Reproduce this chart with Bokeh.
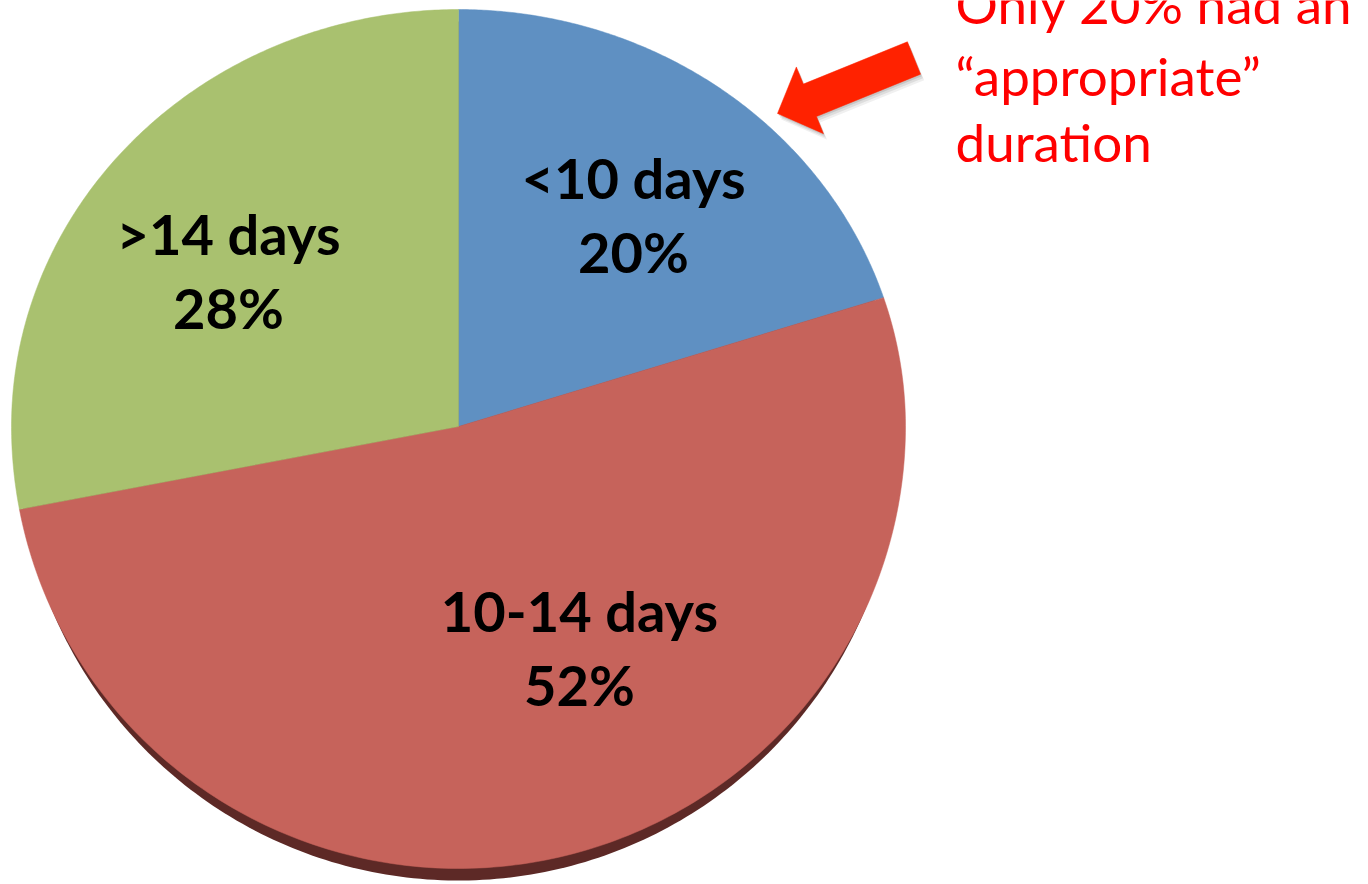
import numpy as np
from bokeh.plotting import figure
from bokeh.models import Range1d, ColumnDataSource
from bokeh.core.properties import value
from bokeh.embed import file_html
from bokeh.resources import INLINE

# Duration of therapy (share of courses), clockwise from 12 o'clock
categories = ["<10 days", "10-14 days", ">14 days"]
shares = [20, 52, 28]
colors = ["#5f90c2", "#c6635b", "#a9c16f"]

note_lines = ["Only 20% had an", "\u201cappropriate\u201d", "duration"]

# Layout of the tilted pie (screen-like coordinates, y grows downward)
CX, CY = 458, 426
RX, RY_TOP, RY_BOT = 447, 417, 442
SHADOW_DY, SHADOW_INSET = 12, 6

# Label anchors (first-line text position)
label_x = [633, 579, 228]
label_y = [177, 610, 233]
LINE_GAP = 74
note_x, note_y = 955, [3, 75, 141]

W, H = 1368, 884
p = figure(width=W, height=H, x_range=Range1d(0, W), y_range=Range1d(H, 0),
           output_backend="svg", toolbar_location=None, min_border=0,
           background_fill_color="white", border_fill_color="white")
p.axis.visible = False
p.grid.visible = False
p.outline_line_color = None


def rim(t, rx=RX):
    ry = np.where(np.cos(t) > 0, RY_TOP, RY_BOT)
    return CX + rx * np.sin(t), CY - ry * np.cos(t)


# Shadowed base of the disc
t_all = np.linspace(0, 2 * np.pi, 400)
bx, by = rim(t_all, RX - SHADOW_INSET)
p.patch(bx, by + SHADOW_DY, fill_color="#5d2926", line_color=None)

# Slices
fr = np.array(shares, dtype=float) / sum(shares)
ends = np.cumsum(fr) * 2 * np.pi
starts = ends - fr * 2 * np.pi
xs, ys = [], []
for a0, a1 in zip(starts, ends):
    t = np.linspace(a0, a1, 200)
    ex, ey = rim(t)
    xs.append(np.concatenate([[CX], ex]).tolist())
    ys.append(np.concatenate([[CY], ey]).tolist())
src = ColumnDataSource(dict(xs=xs, ys=ys, color=colors))
p.patches("xs", "ys", source=src, fill_color="color", line_color="color",
          line_width=0.5)

# Slice labels
lab = ColumnDataSource(dict(
    x=label_x, y1=label_y, y2=[v + LINE_GAP for v in label_y],
    name=categories, pct=[f"{s}%" for s in shares]))
for col, ycol in (("name", "y1"), ("pct", "y2")):
    p.text(x="x", y=ycol, text=col, source=lab, text_font=value("Lato"),
           text_font_style="bold", text_font_size="56px", text_color="black",
           text_align="center", text_baseline="alphabetic")

# Call-out arrow pointing at the <10 days slice
tail = np.array([913.5, 57.5])
tip = np.array([777.0, 113.0])
shaft_w, head_w, head_len = 35, 72, 35
d = (tip - tail) / np.linalg.norm(tip - tail)
n = np.array([-d[1], d[0]])
base = tip - d * head_len
pts = [tail + n * shaft_w / 2, base + n * shaft_w / 2, base + n * head_w / 2, tip,
       base - n * head_w / 2, base - n * shaft_w / 2, tail - n * shaft_w / 2]
ax = [q[0] for q in pts]
ay = [q[1] for q in pts]
for off, alpha in ((6, 0.06), (4, 0.08), (2, 0.10)):
    p.patch([x + off * 0.6 for x in ax], [y + off for y in ay],
            fill_color="#000000", fill_alpha=alpha, line_color=None)
p.patch(ax, ay, fill_color="#ff2200", line_color="#ff2200", line_width=0.5)

# Red note
p.text(x=[note_x] * 3, y=note_y, text=note_lines, text_font=value("Lato"),
       text_font_size="53px", text_color="#ff0000", text_align="left",
       text_baseline="alphabetic")

open("out.html", "w").write(file_html(p, INLINE))
